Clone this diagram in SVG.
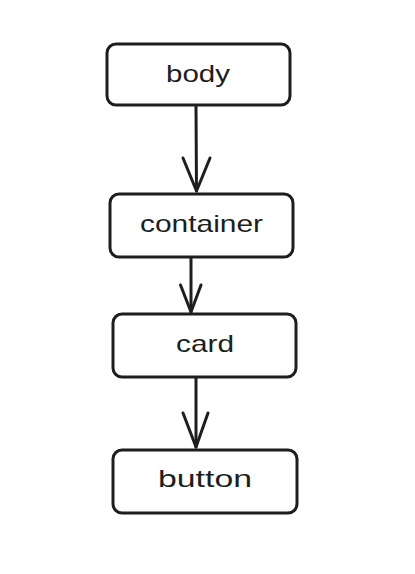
<svg xmlns="http://www.w3.org/2000/svg" width="415" height="574" viewBox="0 0 415 574">
<style>
.box{fill:#ffffff;stroke:#1e1e1e;stroke-width:3;stroke-linejoin:round}
.lbl{font-family:"Liberation Sans","DejaVu Sans",sans-serif;font-size:24px;fill:#1e1e1e;text-anchor:middle}
.conn{fill:none;stroke:#1e1e1e;stroke-width:3;stroke-linecap:round;stroke-linejoin:round}
</style>
<rect width="415" height="574" fill="#ffffff"/>
<g id="connectors">
<path class="conn" d="M196 107 L196.5 191"/>
<path class="conn" d="M183 158 L196.5 191 L210 158"/>
<path class="conn" d="M191 258 L191 312"/>
<path class="conn" d="M180.5 285 L191 312 L201 285"/>
<path class="conn" d="M196 378 L196 447"/>
<path class="conn" d="M183 413 L196 447 L208 413"/>
</g>
<g id="node-body">
<rect class="box" x="107" y="44" width="183" height="61" rx="9"/>
<text class="lbl" x="198" y="82" textLength="64" lengthAdjust="spacingAndGlyphs">body</text>
</g>
<g id="node-container">
<rect class="box" x="110" y="194" width="183" height="63" rx="9"/>
<text class="lbl" x="201.5" y="232" textLength="123" lengthAdjust="spacingAndGlyphs">container</text>
</g>
<g id="node-card">
<rect class="box" x="113" y="314" width="183" height="63" rx="9"/>
<text class="lbl" x="205" y="352" textLength="58" lengthAdjust="spacingAndGlyphs">card</text>
</g>
<g id="node-button">
<rect class="box" x="113" y="450" width="184" height="63" rx="9"/>
<text class="lbl" x="205" y="487" textLength="94" lengthAdjust="spacingAndGlyphs">button</text>
</g>
</svg>
